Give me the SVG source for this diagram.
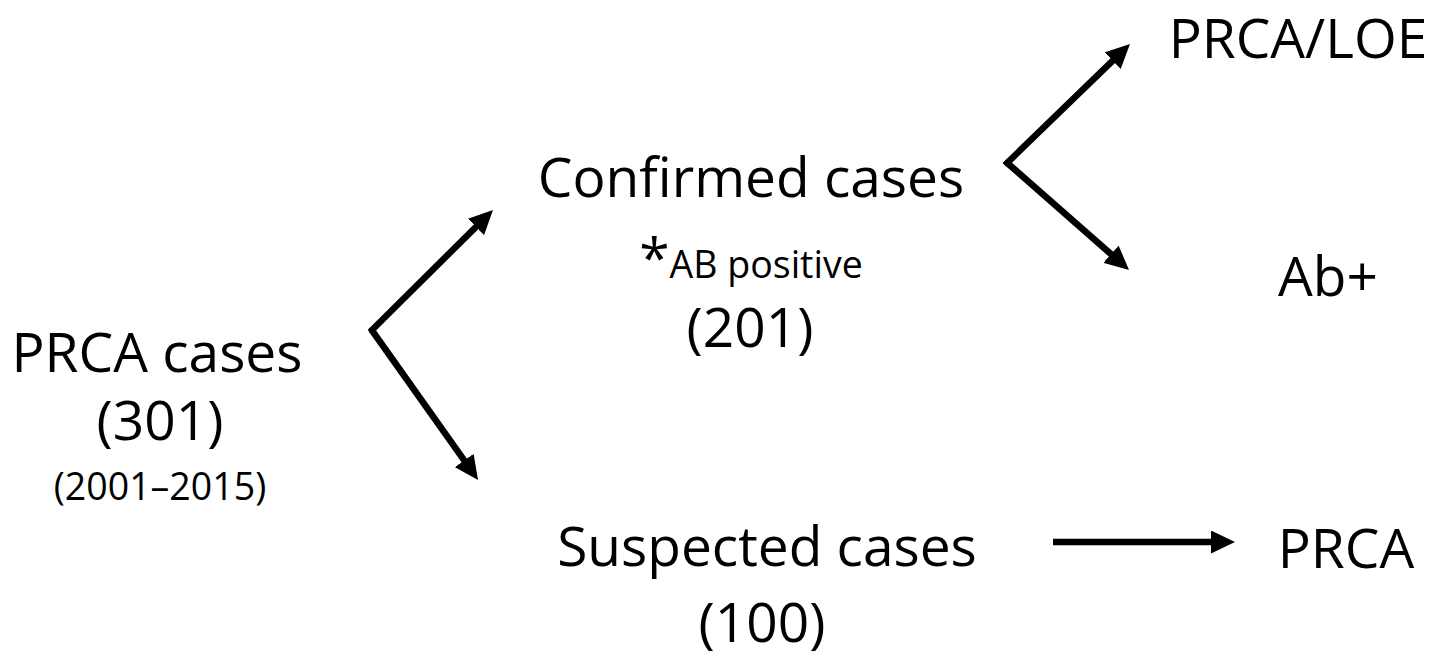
<svg xmlns="http://www.w3.org/2000/svg" width="1436" height="659" viewBox="0 0 1436 659">
<style>
text{font-family:"Open Sans","Noto Sans","Liberation Sans",sans-serif;fill:#000;text-anchor:middle}
.big{font-size:55px}
.small{font-size:37.5px}
.sub{font-size:37.5px}
.conn line{stroke:#000;stroke-width:6.5;fill:none;marker-end:url(#ah)}
</style>
<defs>
<marker id="ah" markerUnits="userSpaceOnUse" markerWidth="24" markerHeight="23" refX="4" refY="11.5" orient="auto" viewBox="0 0 24 23">
<path d="M0,0 L24,11.5 L0,23 z" fill="#000"/>
</marker>
</defs>
<rect width="1436" height="659" fill="#fff"/>
<g id="prca-cases">
<text class="big" x="157" y="372">PRCA cases</text>
<text class="big" x="160" y="440">(301)</text>
<text class="small" x="160" y="500">(2001–2015)</text>
</g>
<g id="confirmed">
<text class="big" x="751" y="197">Confirmed cases</text>
<text x="751" y="278"><tspan class="big">*</tspan><tspan class="sub">AB positive</tspan></text>
<text class="big" x="750" y="347">(201)</text>
</g>
<g id="suspected">
<text class="big" x="767" y="566">Suspected cases</text>
<text class="big" x="762" y="642">(100)</text>
</g>
<g id="prca-loe">
<text class="big" x="1298" y="58">PRCA/LOE</text>
</g>
<g id="ab-plus">
<text class="big" x="1328" y="296">Ab+</text>
</g>
<g id="prca">
<text class="big" x="1346" y="568">PRCA</text>
</g>
<g class="conn" id="connectors">
<line x1="370" y1="332" x2="478.8" y2="224.1"/>
<line x1="371" y1="329" x2="466.5" y2="463.7"/>
<line x1="1005" y1="165" x2="1115.6" y2="57.9"/>
<line x1="1005" y1="161" x2="1114" y2="256.8"/>
<line x1="1053" y1="542" x2="1215" y2="542"/>
</g>
</svg>
